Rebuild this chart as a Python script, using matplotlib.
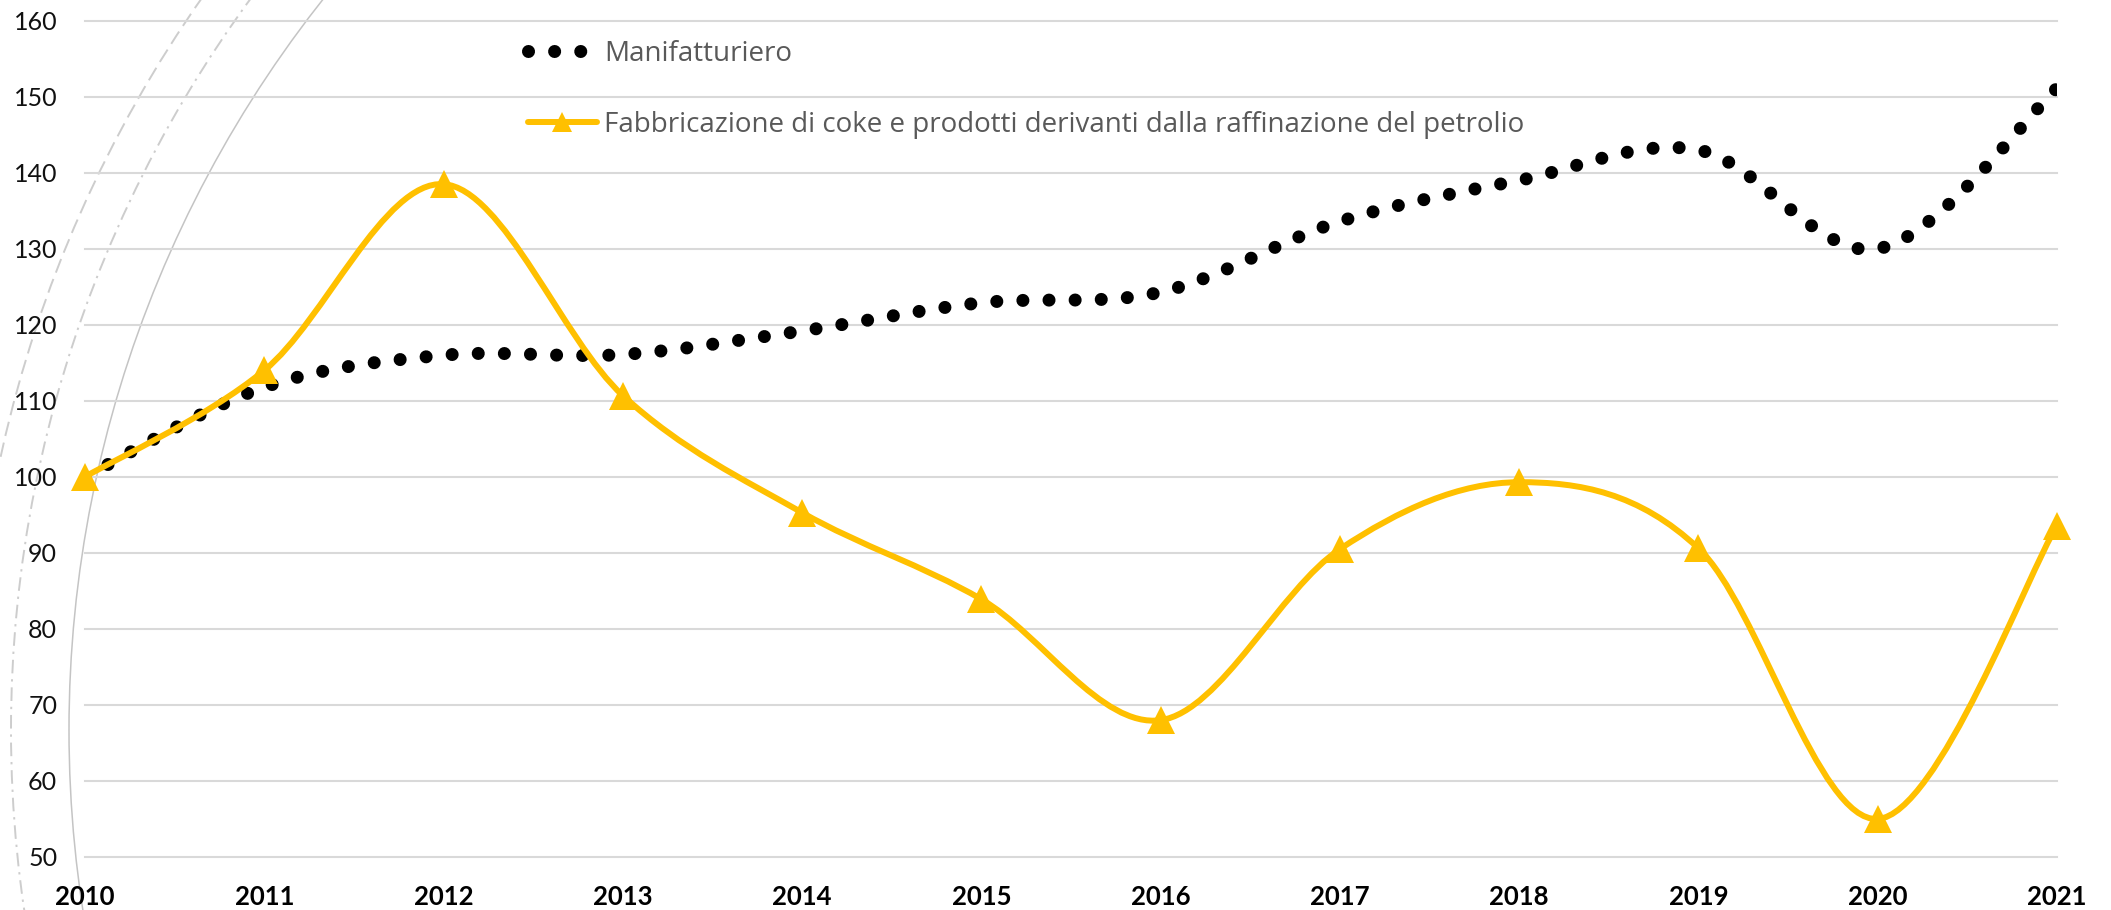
import numpy as np
import matplotlib
matplotlib.use('Agg')
import matplotlib.pyplot as plt
from matplotlib.path import Path
from matplotlib.patches import PathPatch, Circle
from matplotlib.lines import Line2D

plt.rcParams['font.family'] = ['Lato', 'DejaVu Sans']

# Dati
anni = [2010, 2011, 2012, 2013, 2014, 2015, 2016, 2017, 2018, 2019, 2020, 2021]
manifatturiero = [100.0, 111.8, 116.0, 116.1, 119.2, 122.9, 124.3, 133.6, 139.0, 143.0, 130.0, 151.1]
coke_petrolio = [100.0, 114.0, 138.5, 110.7, 95.3, 83.9, 68.0, 90.5, 99.3, 90.6, 55.0, 93.6]
tick_y = [50, 60, 70, 80, 90, 100, 110, 120, 130, 140, 150, 160]
etichette = ['Manifatturiero',
             'Fabbricazione di coke e prodotti derivanti dalla raffinazione del petrolio']

GIALLO = '#FFC000'
W, H = 2111, 910


def curva_liscia(x, y):
    # linea "smussata" tipo Excel: bezier con punti di controllo catmull-rom
    pts = np.column_stack([x, y]).astype(float)
    n = len(pts)
    verts = [pts[0]]
    codes = [Path.MOVETO]
    for i in range(n - 1):
        p_prev = pts[i - 1] if i > 0 else pts[i]
        p_dopo = pts[i + 2] if i + 2 < n else pts[i + 1]
        c1 = pts[i] + (pts[i + 1] - p_prev) / 6
        c2 = pts[i + 1] - (p_dopo - pts[i]) / 6
        verts += [c1, c2, pts[i + 1]]
        codes += [Path.CURVE4] * 3
    return Path(verts, codes)


fig = plt.figure(figsize=(W / 100, H / 100), dpi=100)

# archi decorativi sullo sfondo (coordinate in pixel)
sfondo = fig.add_axes([0, 0, 1, 1], zorder=0)
sfondo.set_xlim(0, W)
sfondo.set_ylim(H, 0)
sfondo.axis('off')
sfondo.add_patch(Circle((1247, 730), 1178, fill=False, ec='#C4C4C4', lw=1.1))
sfondo.add_patch(Circle((1247, 730), 1236, fill=False, ec='#CDCDCD', lw=1.4,
                        linestyle=(0, (7, 3, 1.2, 3))))
sfondo.add_patch(Circle((1247, 730), 1276, fill=False, ec='#CDCDCD', lw=1.4,
                        linestyle=(0, (7.5, 3.5))))

ax = fig.add_axes([85 / W, 1 - 857 / H, (2057 - 85) / W, (857 - 20.7) / H], zorder=1)
ax.set_facecolor('none')
ax.set_xlim(2010, 2021)
ax.set_ylim(50, 160)
ax.set_xticks(anni)
ax.set_yticks(tick_y)
ax.yaxis.grid(True, color='#D9D9D9', lw=1.5)
ax.set_axisbelow(True)
for gl in ax.get_ygridlines():
    gl.set_clip_on(False)
for s in ax.spines.values():
    s.set_visible(False)
ax.tick_params(axis='y', length=0, pad=20, labelsize=18, labelcolor='#111111')
ax.tick_params(axis='x', length=0, pad=20, labelsize=18.5, labelcolor='black')
for t in ax.get_xticklabels():
    t.set_fontweight('bold')

ax.add_patch(PathPatch(curva_liscia(anni, manifatturiero), fill=False, ec='black',
                       lw=9.4, linestyle=(0, (0.001, 2.0)), capstyle='round', zorder=3))
ax.add_patch(PathPatch(curva_liscia(anni, coke_petrolio), fill=False, ec=GIALLO,
                       lw=4.3, capstyle='round', zorder=4))
ax.plot(anni, coke_petrolio, linestyle='none', marker='^', ms=20, mew=0,
        color=GIALLO, zorder=5, clip_on=False)

maniglie = [
    Line2D([], [], color='black', lw=9.4, linestyle=(0, (0.001, 2.0)),
           dash_capstyle='round'),
    Line2D([], [], color=GIALLO, lw=4.3, marker='^', ms=14, mew=0,
           solid_capstyle='round'),
]
ax.legend(maniglie, etichette, loc='upper left',
          bbox_to_anchor=(528 / W, 1 - 40 / H), bbox_transform=fig.transFigure,
          frameon=False, prop={'family': ['Open Sans', 'DejaVu Sans'], 'size': 20},
          handlelength=2.47, handletextpad=0.28,
          labelspacing=1.55, borderpad=0, borderaxespad=0, labelcolor='#595959')

fig.savefig('out.png', dpi=100)
